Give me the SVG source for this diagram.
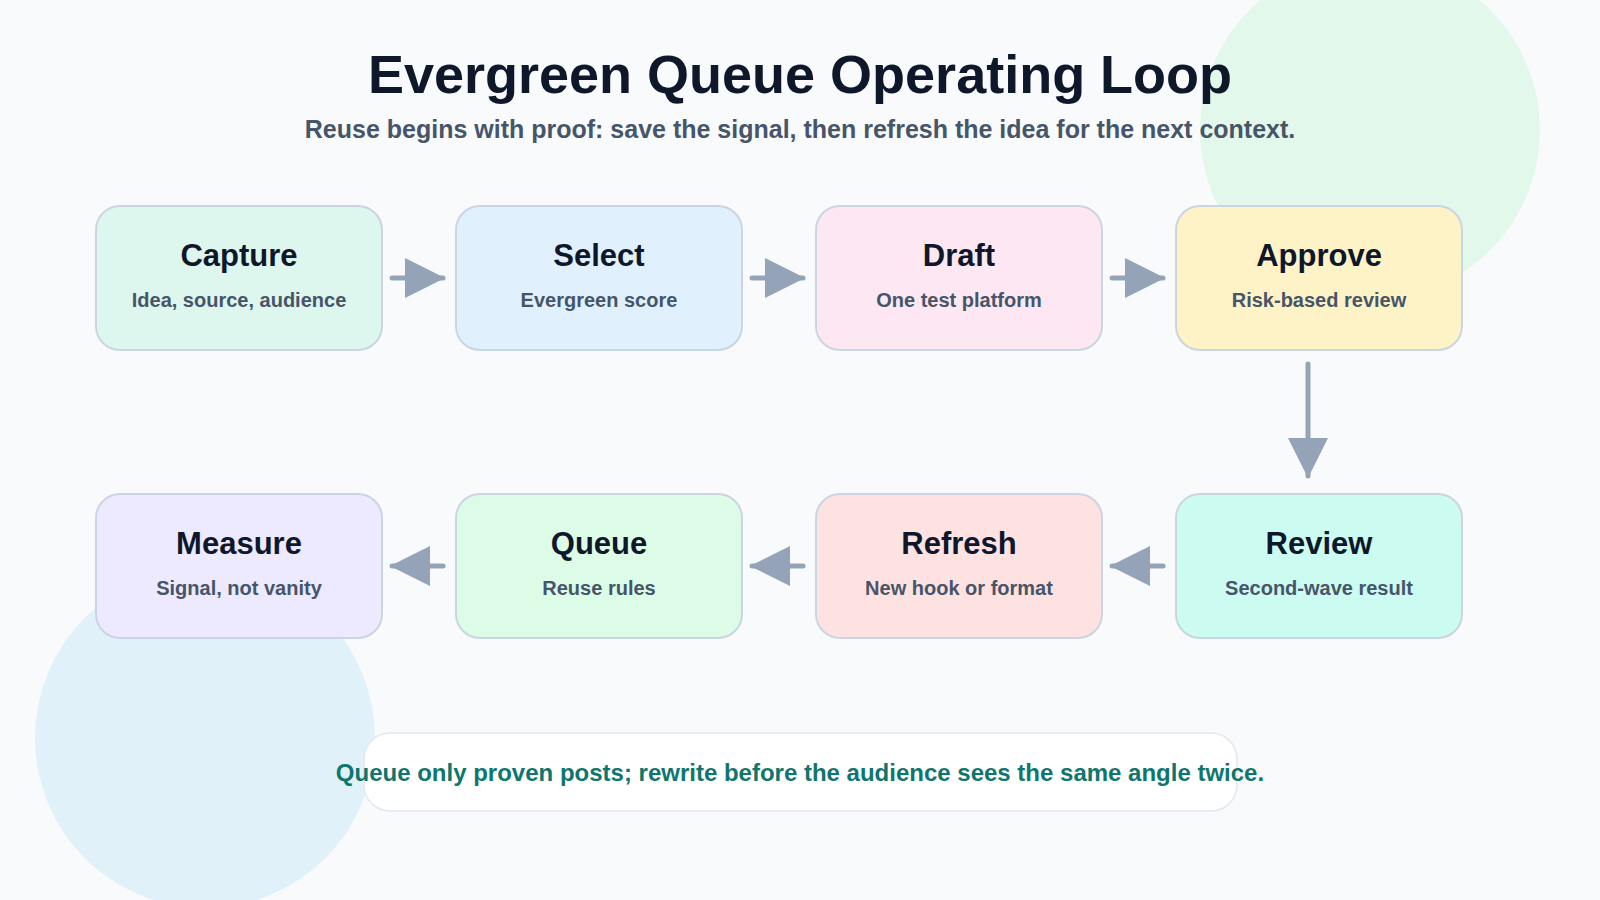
<svg xmlns="http://www.w3.org/2000/svg" width="1600" height="900" viewBox="0 0 1600 900">
  <defs>
    <style>
      .node rect { stroke: #cbd5e1; stroke-width: 2; }
      .t { font-family: "Liberation Sans", Arial, sans-serif; font-weight: bold; font-size: 31px; fill: #0f172a; text-anchor: middle; }
      .s { font-family: "Liberation Sans", Arial, sans-serif; font-weight: bold; font-size: 20px; fill: #475569; text-anchor: middle; }
      .conn path { stroke: #94a3b8; stroke-width: 5; fill: none; stroke-linecap: round; marker-end: url(#ah); }
    </style>
    <marker id="ah" viewBox="0 0 10 10" refX="9.5" refY="5" markerWidth="8" markerHeight="8" orient="auto" markerUnits="strokeWidth">
      <path d="M0,0 L10,5 L0,10 z" fill="#94a3b8"/>
    </marker>
  </defs>
  <rect width="1600" height="900" fill="#f8fafc"/>
  <circle cx="1370" cy="130" r="170" fill="#e1f8ea"/>
  <circle cx="205" cy="738" r="170" fill="#e1f1fa"/>

  <text x="800" y="93" font-family="Liberation Sans, Arial, sans-serif" font-weight="bold" font-size="54" fill="#0f172a" text-anchor="middle">Evergreen Queue Operating Loop</text>
  <text x="800" y="138" font-family="Liberation Sans, Arial, sans-serif" font-weight="bold" font-size="25" fill="#475569" text-anchor="middle">Reuse begins with proof: save the signal, then refresh the idea for the next context.</text>

  <g class="conn">
    <path d="M392 278 L443 278"/>
    <path d="M752 278 L803 278"/>
    <path d="M1112 278 L1163 278"/>
    <path d="M1308 364 L1308 476"/>
    <path d="M1163 566 L1112 566"/>
    <path d="M803 566 L752 566"/>
    <path d="M443 566 L392 566"/>
  </g>

  <g id="capture" class="node">
    <rect x="96" y="206" width="286" height="144" rx="24" fill="#ddf6ee"/>
    <text class="t" x="239" y="266">Capture</text>
    <text class="s" x="239" y="307">Idea, source, audience</text>
  </g>
  <g id="select" class="node">
    <rect x="456" y="206" width="286" height="144" rx="24" fill="#e0f1fd"/>
    <text class="t" x="599" y="266">Select</text>
    <text class="s" x="599" y="307">Evergreen score</text>
  </g>
  <g id="draft" class="node">
    <rect x="816" y="206" width="286" height="144" rx="24" fill="#fce7f3"/>
    <text class="t" x="959" y="266">Draft</text>
    <text class="s" x="959" y="307">One test platform</text>
  </g>
  <g id="approve" class="node">
    <rect x="1176" y="206" width="286" height="144" rx="24" fill="#fef3c7"/>
    <text class="t" x="1319" y="266">Approve</text>
    <text class="s" x="1319" y="307">Risk-based review</text>
  </g>
  <g id="review" class="node">
    <rect x="1176" y="494" width="286" height="144" rx="24" fill="#ccfbf1"/>
    <text class="t" x="1319" y="554">Review</text>
    <text class="s" x="1319" y="595">Second-wave result</text>
  </g>
  <g id="refresh" class="node">
    <rect x="816" y="494" width="286" height="144" rx="24" fill="#fee2e2"/>
    <text class="t" x="959" y="554">Refresh</text>
    <text class="s" x="959" y="595">New hook or format</text>
  </g>
  <g id="queue" class="node">
    <rect x="456" y="494" width="286" height="144" rx="24" fill="#dcfce7"/>
    <text class="t" x="599" y="554">Queue</text>
    <text class="s" x="599" y="595">Reuse rules</text>
  </g>
  <g id="measure" class="node">
    <rect x="96" y="494" width="286" height="144" rx="24" fill="#ede9fe"/>
    <text class="t" x="239" y="554">Measure</text>
    <text class="s" x="239" y="595">Signal, not vanity</text>
  </g>

  <g id="note">
    <rect x="364" y="733" width="873" height="78" rx="26" fill="#ffffff" stroke="#e2e8f0" stroke-width="1.5"/>
    <text x="800" y="781" font-family="Liberation Sans, Arial, sans-serif" font-weight="bold" font-size="24" fill="#0f766e" text-anchor="middle">Queue only proven posts; rewrite before the audience sees the same angle twice.</text>
  </g>
</svg>
